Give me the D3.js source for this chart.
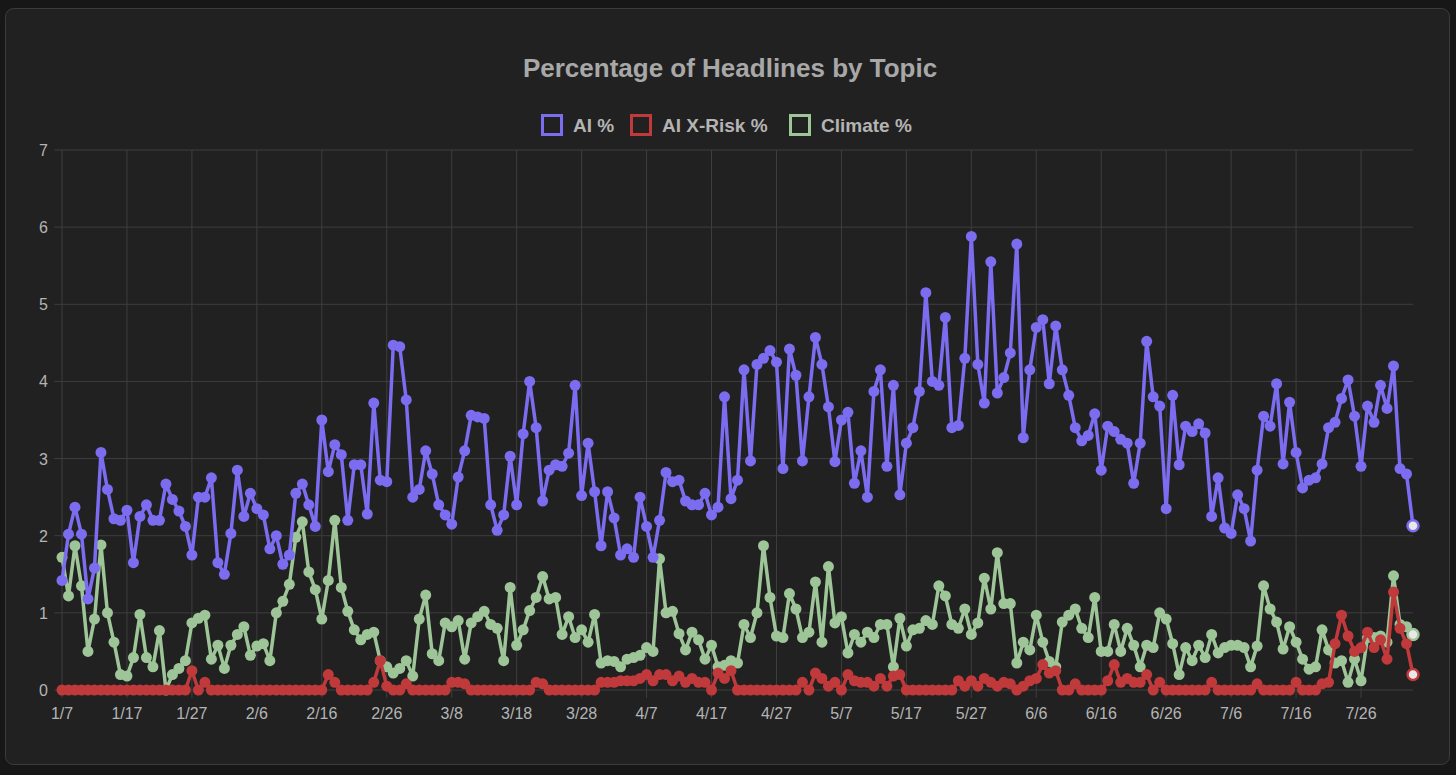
<html>
<head>
<style>
body{ margin:0; background:#171717; font-family:"Liberation Sans", Arial, sans-serif; }
svg{ display:block; }
</style>
</head>
<body>
<svg width="1456" height="775"></svg>
<script src="https://d3js.org/d3.v7.min.js"></script>
<script>
// daily values, 1/7 .. 8/3 (2023)
const aiPct = [
  1.42,2.02,2.37,2.02,1.18,1.58,3.08,2.6,2.22,2.2,
  2.33,1.65,2.25,2.4,2.2,2.2,2.67,2.47,2.32,2.12,
  1.75,2.5,2.5,2.75,1.65,1.5,2.03,2.85,2.25,2.55,
  2.35,2.27,1.83,2.0,1.63,1.75,2.55,2.67,2.4,2.12,
  3.5,2.83,3.18,3.05,2.2,2.92,2.92,2.28,3.72,2.72,
  2.7,4.47,4.45,3.76,2.5,2.6,3.1,2.8,2.4,2.27,
  2.15,2.76,3.1,3.56,3.54,3.52,2.4,2.07,2.27,3.03,
  2.4,3.32,4.0,3.4,2.45,2.85,2.92,2.9,3.07,3.95,
  2.52,3.2,2.57,1.87,2.57,2.23,1.75,1.83,1.72,2.5,
  2.12,1.72,2.2,2.82,2.7,2.72,2.45,2.4,2.4,2.55,
  2.27,2.37,3.8,2.48,2.72,4.15,2.97,4.22,4.3,4.4,
  4.25,2.87,4.42,4.08,2.97,3.8,4.57,4.22,3.67,2.96,
  3.5,3.6,2.68,3.1,2.5,3.87,4.15,2.9,3.95,2.53,
  3.2,3.4,3.87,5.15,4.0,3.95,4.83,3.4,3.43,4.3,
  5.88,4.22,3.72,5.55,3.85,4.05,4.37,5.78,3.27,4.15,
  4.7,4.8,3.97,4.72,4.15,3.82,3.4,3.23,3.3,3.58,
  2.85,3.42,3.35,3.25,3.2,2.68,3.2,4.52,3.8,
  3.68,2.35,3.82,2.92,3.42,3.35,3.45,3.33,2.25,2.75,
  2.1,2.03,2.53,2.35,1.93,2.85,3.55,3.42,3.97,2.93,
  3.73,3.08,2.62,2.72,2.75,2.93,3.4,3.47,3.78,4.02,
  3.55,2.9,3.68,3.47,3.95,3.65,4.2,2.87,2.8,2.13
];
const xRiskPct = [
  0,0,0,0,0,0,0,0,0,0,
  0,0,0,0,0,0,0,0,0,0,
  0.25,0,0.1,0,0,0,0,0,0,0,
  0,0,0,0,0,0,0,0,0,0,
  0,0.2,0.1,0,0,0,0,0,0.1,0.38,
  0.05,0,0,0.08,0,0,0,0,0,0,
  0.1,0.1,0.08,0,0,0,0,0,0,0,
  0,0,0,0.1,0.08,0,0,0,0,0,
  0,0,0,0.1,0.1,0.1,0.12,0.12,0.12,0.15,
  0.2,0.12,0.2,0.2,0.12,0.18,0.1,0.15,0.1,0.1,
  0,0.22,0.15,0.25,0,0,0,0,0,0,
  0,0,0,0,0.1,0,0.22,0.15,0.05,0.1,
  0,0.2,0.12,0.1,0.1,0.05,0.15,0.05,0.18,0.2,
  0,0,0,0,0,0,0,0,0.12,0.05,
  0.12,0.05,0.15,0.1,0.05,0.1,0.08,0,0.05,0.12,
  0.15,0.33,0.22,0.25,0,0,0.08,0,0,0,
  0,0.12,0.33,0.1,0.15,0.1,0.1,0.2,0,
  0.1,0,0,0,0,0,0,0,0.1,0,
  0,0,0,0,0,0.08,0,0,0,0,
  0,0.1,0,0,0,0.08,0.1,0.6,0.97,0.7,
  0.5,0.55,0.75,0.55,0.65,0.4,1.27,0.8,0.6,0.2
];
const climatePct = [
  1.72,1.22,1.87,1.35,0.5,0.92,1.88,1.0,0.62,0.2,
  0.18,0.42,0.98,0.42,0.3,0.77,0.0,0.2,0.28,0.38,
  0.87,0.93,0.97,0.4,0.58,0.28,0.58,0.72,0.82,0.45,
  0.57,0.6,0.38,1.0,1.15,1.37,1.98,2.18,1.53,1.3,
  0.92,1.42,2.2,1.33,1.02,0.78,0.65,0.72,0.75,0.38,
  0.3,0.22,0.28,0.38,0.18,0.92,1.23,0.47,0.38,0.87,
  0.82,0.9,0.4,0.87,0.95,1.02,0.85,0.8,0.38,1.33,
  0.58,0.78,1.03,1.2,1.47,1.18,1.2,0.72,0.95,0.68,
  0.78,0.62,0.98,0.35,0.38,0.37,0.3,0.4,0.42,0.45,
  0.55,0.5,1.7,1.0,1.02,0.73,0.52,0.75,0.65,0.4,
  0.58,0.3,0.32,0.38,0.35,0.85,0.68,1.0,1.87,1.2,
  0.7,0.68,1.25,1.05,0.68,0.75,1.4,0.62,1.6,0.87,
  0.95,0.48,0.72,0.62,0.75,0.68,0.85,0.85,0.3,0.93,
  0.57,0.78,0.8,0.9,0.85,1.35,1.22,0.85,0.8,1.05,
  0.72,0.87,1.45,1.05,1.78,1.12,1.12,0.35,0.62,0.52,
  0.97,0.62,0.37,0.3,0.88,0.97,1.05,0.8,0.68,1.2,
  0.5,0.5,0.85,0.5,0.8,0.58,0.3,0.58,0.55,
  1.0,0.92,0.6,0.2,0.55,0.38,0.58,0.42,0.72,0.48,
  0.55,0.58,0.58,0.55,0.3,0.57,1.35,1.05,0.88,0.53,
  0.82,0.62,0.4,0.27,0.3,0.78,0.52,0.35,0.38,0.1,
  0.4,0.12,0.68,0.68,0.7,0.62,1.48,0.85,0.82,0.72
];
const seriesNames = ["AI %", "AI X-Risk %", "Climate %"];
const seriesColors = ["#7b6cf0", "#c0393b", "#9dc598"];
const yTicks = [0,1,2,3,4,5,6,7];

// date labels
const start = new Date(2023, 0, 7);
const dates = aiPct.map((d, i) => { const t = new Date(start); t.setDate(t.getDate() + i); return (t.getMonth()+1) + "/" + t.getDate(); });

const svg = d3.select("svg");
const m = {l: 62, r: 1413, t: 150, b: 690};
svg.append("rect").attr("x", 5.5).attr("y", 8.5).attr("width", 1444).attr("height", 756)
  .attr("rx", 8).attr("fill", "#212121").attr("stroke", "#3c3c3c");

const x = d3.scaleLinear().domain([0, dates.length - 1]).range([m.l, m.r]);
const y = d3.scaleLinear().domain([0, 7]).range([m.b, m.t]);

// grid
const xTickIdx = d3.range(0, dates.length, 10);
svg.append("g").selectAll("line").data(xTickIdx).join("line")
  .attr("x1", d => x(d)).attr("x2", d => x(d)).attr("y1", m.t).attr("y2", m.b + 8)
  .attr("stroke", "#3e3e3e");
svg.append("g").selectAll("line").data(yTicks).join("line")
  .attr("x1", m.l - 8).attr("x2", m.r).attr("y1", d => y(d)).attr("y2", d => y(d))
  .attr("stroke", "#3e3e3e");

svg.append("g").selectAll("text").data(yTicks).join("text")
  .attr("x", m.l - 14).attr("y", d => y(d) + 6).attr("text-anchor", "end")
  .attr("fill", "#b4b4b4").attr("font-size", 16).text(d => d);
svg.append("g").selectAll("text").data(xTickIdx).join("text")
  .attr("x", d => x(d)).attr("y", m.b + 29).attr("text-anchor", "middle")
  .attr("fill", "#b4b4b4").attr("font-size", 16).text(d => dates[d]);

// title + legend
svg.append("text").attr("x", 730).attr("y", 77).attr("text-anchor", "middle")
  .attr("fill", "#a8a8a8").attr("font-size", 26).attr("font-weight", "bold")
  .text("Percentage of Headlines by Topic");
const legendX = [541, 630, 789];
seriesNames.forEach((n, i) => {
  const g = svg.append("g").attr("transform", `translate(${legendX[i]},114)`);
  g.append("rect").attr("x", 1.5).attr("y", 1.5).attr("width", 19).attr("height", 19)
    .attr("fill", "none").attr("stroke", seriesColors[i]).attr("stroke-width", 3);
  g.append("text").attr("x", 32).attr("y", 17.5).attr("fill", "#b4b4b4")
    .attr("font-size", 19).attr("font-weight", "bold").text(n);
});

// series (draw order: climate, ai, x-risk on top)
const line = d3.line().x((d, i) => x(i)).y(d => y(d));
[[climatePct, 2], [aiPct, 0], [xRiskPct, 1]].forEach(([vals, ci]) => {
  const g = svg.append("g");
  g.append("path").datum(vals).attr("d", line).attr("fill", "none")
    .attr("stroke", seriesColors[ci]).attr("stroke-width", 3.5).attr("stroke-linejoin", "round");
  g.selectAll("circle").data(vals).join("circle")
    .attr("cx", (d, i) => x(i)).attr("cy", d => y(d)).attr("r", 5.5)
    .attr("fill", (d, i) => i === vals.length - 1 ? "#e8e8e8" : seriesColors[ci])
    .attr("stroke", seriesColors[ci]).attr("stroke-width", (d, i) => i === vals.length - 1 ? 2.5 : 0);
});
</script>
</body>
</html>
